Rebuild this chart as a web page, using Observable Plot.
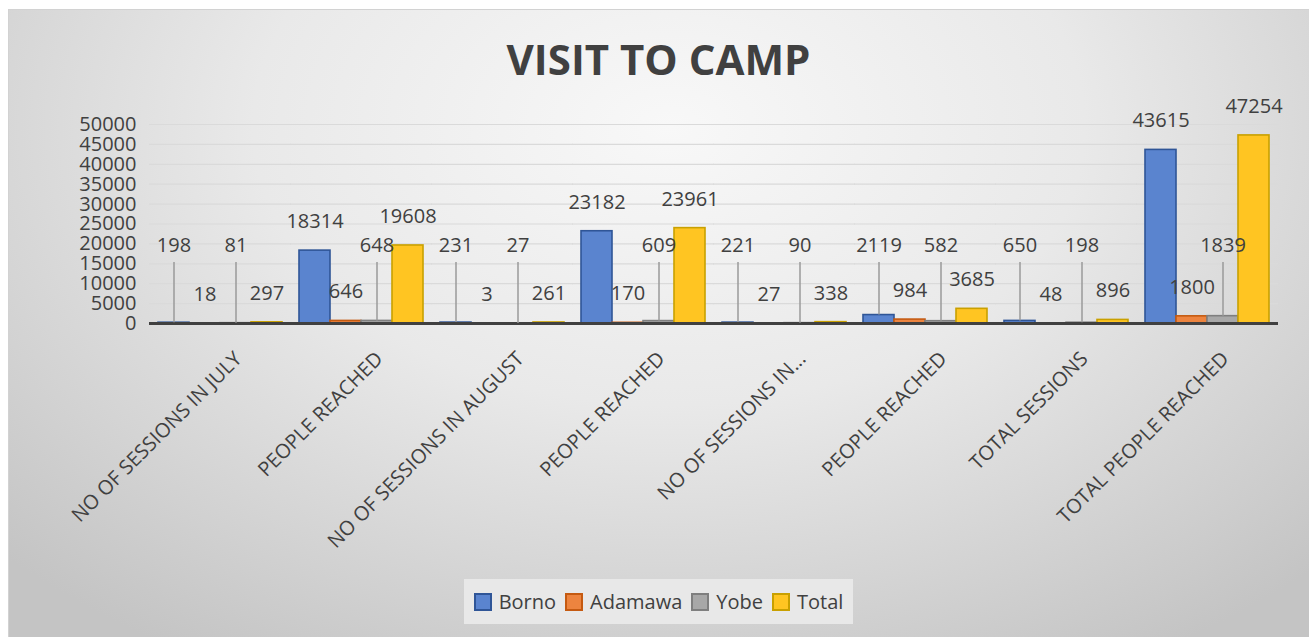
<!DOCTYPE html>
<html>
<head>
<meta charset="utf-8">
<script src="https://cdn.jsdelivr.net/npm/d3@7"></script>
<script src="https://cdn.jsdelivr.net/npm/@observablehq/plot@0.6"></script>
<style>
  html, body { margin: 0; padding: 0; background: #ffffff; }
  #chart { position: relative; width: 1309px; height: 637px; overflow: hidden; font-family: "Open Sans", sans-serif; color: #404040; }
  #bg { position: absolute; left: 8px; top: 9px; width: 1320px; height: 650px; border: 1px solid #d2d2d2;
        background: radial-gradient(ellipse 70% 95% at 50% 18%, #f8f8f8 0%, #e9e9e9 45%, #c4c4c4 100%); }
  #title { position: absolute; left: 0; top: 38px; width: 1309px; padding-left: 8px; box-sizing: border-box; text-align: center;
           font: 700 42px/1 "Open Sans", sans-serif; color: #404040; }
  #plot { position: absolute; left: 0; top: 0; }
  #legend { position: absolute; left: 464px; top: 579px; width: 389px; height: 45px; background: #e8e8e8;
            display: flex; align-items: center; justify-content: center; gap: 9px; font: 400 20px/1 "Open Sans", sans-serif; color: #404040; }
  .item { display: flex; align-items: center; gap: 7px; }
  .sw { width: 14px; height: 14px; border: 2px solid; }
</style>
</head>
<body>
<div id="chart">
  <div id="bg"></div>
  <div id="title">VISIT TO CAMP</div>
  <div id="plot"></div>
  <div id="legend"></div>
</div>
<script>
// ---- data ----
const categories = [
  "NO OF SESSIONS IN JULY",
  "PEOPLE REACHED",
  "NO OF SESSIONS IN AUGUST",
  "PEOPLE REACHED",
  "NO OF SESSIONS IN...",
  "PEOPLE REACHED",
  "TOTAL SESSIONS",
  "TOTAL PEOPLE REACHED"
];
const seriesNames = ["Borno", "Adamawa", "Yobe", "Total"];
const borno   = [198, 18314, 231, 23182, 221, 2119, 650, 43615];
const adamawa = [18, 646, 3, 170, 27, 984, 48, 1800];
const yobe    = [81, 648, 27, 609, 90, 582, 198, 1839];
const total   = [297, 19608, 261, 23961, 338, 3685, 896, 47254];
const yTicks  = [0, 5000, 10000, 15000, 20000, 25000, 30000, 35000, 40000, 45000, 50000];

// ---- styles ----
const fills   = {Borno: "#5A84CF", Adamawa: "#ED843F", Yobe: "#A8A8A8", Total: "#FFC522"};
const strokes = {Borno: "#2F5597", Adamawa: "#C55A11", Yobe: "#7F7F7F", Total: "#C9A000"};
const LANE = 19600; // height of lifted labels (value units)

const seriesValues = {Borno: borno, Adamawa: adamawa, Yobe: yobe, Total: total};
const rows = [];
categories.forEach((c, group) => {
  seriesNames.forEach(series => rows.push({group, series, value: seriesValues[series][group]}));
});
const isLifted = d => (d.series === "Borno" || d.series === "Yobe") && d.value < 3000;
const lifted = rows.filter(isLifted);
const normal = rows.filter(d => !isLifted(d));
const groups = categories.map((label, group) => ({group, label}));

const chart = Plot.plot({
  width: 1309,
  height: 637,
  marginTop: 124,
  marginBottom: 314,
  marginLeft: 147,
  marginRight: 29,
  style: {background: "transparent", fontFamily: "Open Sans, sans-serif", fontSize: "20px", color: "#404040", overflow: "visible"},
  fx: {domain: d3.range(categories.length), paddingInner: 0.124, paddingOuter: 0.062, axis: null, label: null},
  x: {domain: seriesNames, padding: 0, axis: null, label: null},
  y: {domain: [0, 50000], axis: null, label: null},
  marks: [
    Plot.ruleY(yTicks.slice(1), {stroke: "#dadada", strokeWidth: 1.2, insetLeft: -9, insetRight: -9}),
    Plot.axisY(yTicks, {tickSize: 0, tickPadding: 22, tickFormat: d => String(d), label: null, fontSize: 20, fill: "#404040"}),
    ...seriesNames.map(s => Plot.barY(rows.filter(d => d.series === s), {
      fx: "group", x: "series", y: "value", fill: fills[s], stroke: strokes[s], strokeWidth: 1.6
    })),
    Plot.ruleY([0], {stroke: "#404040", strokeWidth: 3, insetLeft: -9, insetRight: -9}),
    Plot.ruleX(lifted, {fx: "group", x: "series", y1: LANE, y2: "value", stroke: "#9a9a9a", strokeWidth: 1.5, insetTop: 17}),
    Plot.text(normal, {fx: "group", x: "series", y: "value", text: d => String(d.value), dy: -29, lineAnchor: "middle", fontSize: 20, fill: "#404040"}),
    Plot.text(lifted, {fx: "group", x: "series", y: LANE, text: d => String(d.value), lineAnchor: "middle", fontSize: 20, fill: "#404040"}),
    Plot.text(groups, {fx: "group", text: "label", frameAnchor: "bottom", rotate: -45, textAnchor: "end", lineAnchor: "middle", dx: 18, dy: 32, fontSize: 20, fill: "#404040"})
  ]
});
document.getElementById("plot").appendChild(chart);

const legend = document.getElementById("legend");
seriesNames.forEach(s => {
  const item = document.createElement("div");
  item.className = "item";
  const sw = document.createElement("div");
  sw.className = "sw";
  sw.style.background = fills[s];
  sw.style.borderColor = strokes[s];
  const t = document.createElement("span");
  t.textContent = s;
  item.appendChild(sw);
  item.appendChild(t);
  legend.appendChild(item);
});
</script>
</body>
</html>
